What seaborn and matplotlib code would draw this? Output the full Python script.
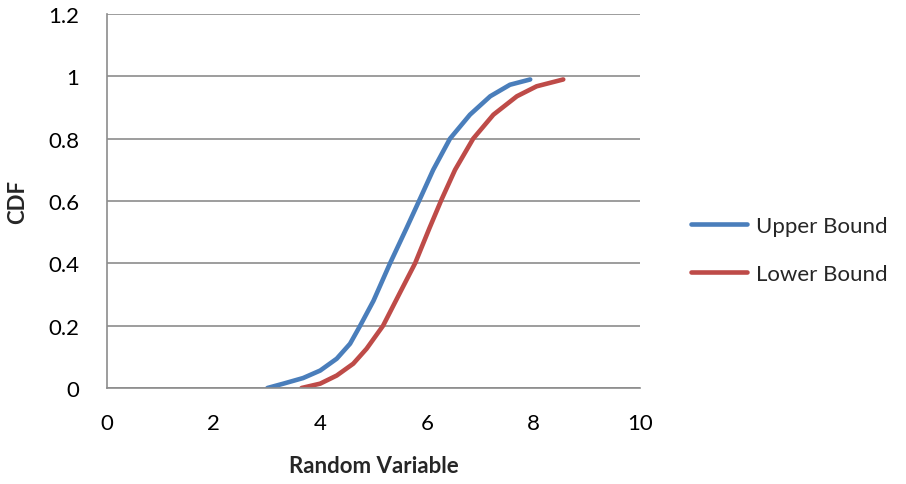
import matplotlib
matplotlib.use("Agg")
import matplotlib.pyplot as plt
import seaborn as sns
import pandas as pd

upper_x = [3.01, 3.31, 3.68, 4.00, 4.31, 4.56, 4.75, 5.00, 5.31, 5.62, 5.87, 6.12, 6.435, 6.81, 7.19, 7.56, 7.94]
upper_y = [0.00, 0.014, 0.032, 0.056, 0.094, 0.142, 0.20, 0.28, 0.40, 0.513, 0.606, 0.70, 0.80, 0.877, 0.936, 0.973, 0.99]
lower_x = [3.65, 4.00, 4.31, 4.62, 4.87, 5.18, 5.50, 5.78, 6.05, 6.28, 6.53, 6.87, 7.25, 7.69, 8.06, 8.56]
lower_y = [0.00, 0.014, 0.04, 0.078, 0.126, 0.20, 0.307, 0.40, 0.513, 0.606, 0.70, 0.80, 0.877, 0.936, 0.968, 0.99]
series_names = ["Upper Bound", "Lower Bound"]
x_ticks = [0, 2, 4, 6, 8, 10]
y_ticks = [0, 0.2, 0.4, 0.6, 0.8, 1, 1.2]
y_tick_labels = ["0", "0.2", "0.4", "0.6", "0.8", "1", "1.2"]

df = pd.concat([
    pd.DataFrame({"x": upper_x, "y": upper_y, "series": series_names[0]}),
    pd.DataFrame({"x": lower_x, "y": lower_y, "series": series_names[1]}),
])

sns.set_style("white")
plt.rcParams["font.family"] = ["Lato", "DejaVu Sans"]

fig = plt.figure(figsize=(9.06, 4.85), dpi=100)
ax = fig.add_axes([107/906, (485-389)/485, (640-107)/906, (389-15)/485])

palette = {"Upper Bound": "#4A7EBB", "Lower Bound": "#BE4B48"}
sns.lineplot(data=df, x="x", y="y", hue="series", units="series", estimator=None,
             sort=False, palette=palette, linewidth=3.3, ax=ax, legend=True)
for line in ax.lines:
    line.set_solid_capstyle("round")
    line.set_solid_joinstyle("round")

ax.set_xlim(0, 10)
ax.set_ylim(0, 1.2)
ax.set_xticks(x_ticks)
ax.set_yticks(y_ticks)
ax.set_yticklabels(y_tick_labels)
ax.tick_params(axis="both", length=0, labelsize=16, colors="black")
ax.tick_params(axis="y", pad=20)
ax.tick_params(axis="x", pad=18)
ax.grid(axis="y", color="#8C8C8C", linewidth=1.2)
ax.set_axisbelow(True)
for s in ["top", "right"]:
    ax.spines[s].set_visible(False)
for s in ["left", "bottom"]:
    ax.spines[s].set_color("#8C8C8C")
    ax.spines[s].set_linewidth(1.2)

ax.set_xlabel("Random Variable", fontsize=16, fontweight="bold", labelpad=16)
ax.set_ylabel("CDF", fontsize=16, fontweight="bold")
ax.yaxis.set_label_coords(-79/533, 0.5)

leg = ax.legend(title=None, frameon=False, fontsize=16,
                loc="center left", handlelength=2.5, handletextpad=0.4, labelspacing=1.25,
                borderaxespad=0, borderpad=0)
leg.set_bbox_to_anchor((693/906 - 0.002, (485-251)/485), transform=fig.transFigure)
for h in leg.get_lines():
    h.set_linewidth(3.3)

fig.savefig("out.png", dpi=100)
